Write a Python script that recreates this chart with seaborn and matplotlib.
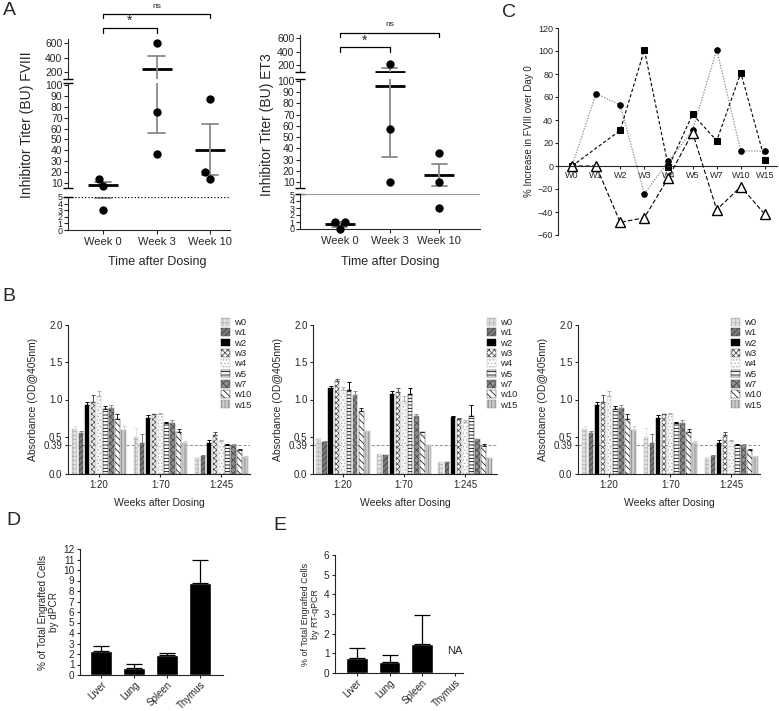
import numpy as np
import pandas as pd
import matplotlib
matplotlib.use("Agg")
import matplotlib.pyplot as plt
import matplotlib.patches as mpatches
from matplotlib.transforms import blended_transform_factory
import seaborn as sns

sns.set_style("ticks")
plt.rcParams["font.family"] = ["Liberation Sans", "DejaVu Sans"]
plt.rcParams["hatch.linewidth"] = 0.6
plt.rcParams["axes.linewidth"] = 0.8
plt.rcParams["xtick.major.width"] = 0.8
plt.rcParams["ytick.major.width"] = 0.8

# ---------------- data ----------------
weeks_a = ["Week 0", "Week 3", "Week 10"]
fviii_w0 = [14, 7, 3]
fviii_w3 = [600, 75, 37]
fviii_w10 = [87, 14, 20]
et3_w0 = [0, 1, 1]
et3_w3 = [220, 57, 10]
et3_w10 = [36, 10, 3]

c_weeks = ["W0", "W1", "W2", "W3", "W4", "W5", "W7", "W10", "W15"]
c_circle = [0, 63, 53, -24, 4, 31, 101, 13, 13]
c_square = [0, np.nan, 31, 101, -1, 45, 22, 81, 5]
c_triangle = [0, 0, -49, -45, -10, 29, -38, -18, -42]

b_dil = ["1:20", "1:70", "1:245"]
b_weeks = ["w0", "w1", "w2", "w3", "w4", "w5", "w7", "w10", "w15"]
b1_20 = [0.61, 0.55, 0.92, 0.97, 1.05, 0.87, 0.88, 0.74, 0.59]
b1_70 = [0.49, 0.41, 0.75, 0.80, 0.80, 0.69, 0.68, 0.57, 0.42]
b1_245 = [0.22, 0.24, 0.42, 0.53, 0.44, 0.39, 0.39, 0.32, 0.23]
b1_20_err = [0.03, 0.03, 0.04, 0.09, 0.06, 0.04, 0.05, 0.06, 0.05]
b1_70_err = [0.13, 0.13, 0.04, 0.01, 0.02, 0.01, 0.05, 0.04, 0.02]
b1_245_err = [0.01, 0.01, 0.03, 0.03, 0.02, 0.01, 0.01, 0.02, 0.01]
b2_20 = [0.47, 0.43, 1.16, 1.25, 1.13, 1.13, 1.06, 0.85, 0.58]
b2_70 = [0.27, 0.26, 1.07, 1.10, 0.98, 1.07, 0.78, 0.57, 0.39]
b2_245 = [0.16, 0.16, 0.76, 0.74, 0.70, 0.78, 0.47, 0.37, 0.21]
b2_20_err = [0.01, 0.01, 0.02, 0.02, 0.04, 0.10, 0.06, 0.03, 0.0]
b2_70_err = [0.0, 0.0, 0.04, 0.05, 0.07, 0.08, 0.03, 0.0, 0.0]
b2_245_err = [0.0, 0.0, 0.02, 0.01, 0.03, 0.14, 0.0, 0.03, 0.0]
b3_20, b3_70, b3_245 = b1_20, b1_70, b1_245
b3_20_err, b3_70_err, b3_245_err = b1_20_err, b1_70_err, b1_245_err

tissues = ["Liver", "Lung", "Spleen", "Thymus"]
d_mean = [2.25, 0.70, 1.95, 8.8]
d_err = [0.55, 0.35, 0.15, 2.2]
e_mean = [0.75, 0.57, 1.47, np.nan]
e_err = [0.50, 0.35, 1.47, np.nan]

# ---------------- figure ----------------
W, H = 779, 711
fig = plt.figure(figsize=(W / 100, H / 100), dpi=100)


def ax_px(l, t, r, b):
    return fig.add_axes([l / W, 1 - b / H, (r - l) / W, (b - t) / H])


def fy(px):
    return 1 - px / H


def fx(px):
    return px / W


# ---------------- panel A ----------------
def panel_a(vals, left, right, segs, xlim, line5, brackets):
    df = pd.DataFrame({"week": np.repeat(weeks_a, 3), "val": np.concatenate(vals)})
    axes = []
    n = len(segs)
    for i, (t, b, yl, yt) in enumerate(segs):
        ax = ax_px(left, t, right, b)
        ax.patch.set_alpha(0)
        sub = df[(df.val >= yl[0]) & (df.val <= yl[1])]
        sns.swarmplot(data=sub, x="week", y="val", order=weeks_a, color="black",
                      size=6, ax=ax, clip_on=False)
        sns.pointplot(data=df, x="week", y="val", order=weeks_a, errorbar="se",
                      capsize=0.3, color="black", marker="_", markersize=22,
                      markeredgewidth=2, linestyle="none",
                      err_kws={"color": "#8a8a8a", "linewidth": 1.3}, ax=ax)
        ax.set_xlim(xlim)
        ax.set_ylim(yl)
        ax.set_yticks(yt)
        ax.set_xlabel("")
        ax.set_ylabel("")
        ax.spines["top"].set_visible(False)
        ax.spines["right"].set_visible(False)
        if i < n - 1:
            ax.spines["bottom"].set_visible(False)
            ax.tick_params(axis="x", bottom=False, labelbottom=False)
            ax.tick_params(axis="y", labelsize=7.5, length=3, pad=1)
        else:
            ax.tick_params(axis="x", labelsize=8, length=3, pad=2)
            ax.tick_params(axis="y", labelsize=6.5, length=3, pad=1)
        if i > 0:
            ax.plot([0], [1], marker="_", ms=7, mew=1, color="black",
                    transform=ax.transAxes, clip_on=False)
        if i < n - 1:
            ax.plot([0], [0], marker="_", ms=7, mew=1, color="black",
                    transform=ax.transAxes, clip_on=False)
        axes.append(ax)
    axb = axes[-1]
    axb.axhline(5, **line5)
    top = axes[0]
    tr = blended_transform_factory(top.transData, fig.transFigure)
    for (x0, x1, yb, yl, txt, ty, fs) in brackets:
        top.plot([x0, x0, x1, x1], [fy(yl), fy(yb), fy(yb), fy(yl)], color="black",
                 lw=0.9, transform=tr, clip_on=False)
        top.text((x0 + x1) / 2, fy(ty), txt, transform=tr, ha="center", va="center",
                 fontsize=fs)
    return axes


panel_a([fviii_w0, fviii_w3, fviii_w10], 68, 230,
        [(39.4, 79.3, (100, 650), [200, 400, 600]),
         (82.8, 188.4, (5, 102), list(range(10, 101, 10))),
         (197, 230, (0, 5), [0, 1, 2, 3, 4, 5])],
        (-0.65, 2.37), dict(ls=":", color="black", lw=0.9),
        [(0, 1, 28, 33, "*", 21, 10), (0, 2, 14, 18, "ns", 6, 6)])
fig.text(fx(27), fy(125), "Inhibitor Titer (BU) FVIII", rotation=90, ha="center",
         va="center", fontsize=10)
fig.text(fx(157), fy(262), "Time after Dosing", ha="center", va="center", fontsize=9)

panel_a([et3_w0, et3_w3, et3_w10], 300, 480,
        [(34.6, 71.8, (100, 650), [200, 400, 600]),
         (78.8, 187.6, (5, 102), list(range(10, 101, 10))),
         (194, 229, (0, 5), [0, 1, 2, 3, 4, 5])],
        (-0.8, 2.82), dict(ls="-", color="#9a9a9a", lw=0.8),
        [(0, 1, 47, 52, "*", 41, 10), (0, 2, 33, 37, "ns", 25, 6)])
fig.text(fx(267), fy(125), "Inhibitor Titer (BU) ET3", rotation=90, ha="center",
         va="center", fontsize=10)
fig.text(fx(390), fy(262), "Time after Dosing", ha="center", va="center", fontsize=9)

# ---------------- panel C ----------------
axc = ax_px(558, 28, 777, 235)
pos = np.arange(len(c_weeks))
dfc = pd.DataFrame({"pos": pos, "circle": c_circle, "square": c_square,
                    "triangle": c_triangle})
sq = dfc.dropna(subset=["square"])
sns.lineplot(x=dfc["pos"], y=dfc["circle"], ax=axc, color="#8c8c8c", ls=(0, (1, 1.2)),
             lw=0.9, marker="o", ms=4, mfc="black", mec="black")
sns.lineplot(x=sq["pos"], y=sq["square"], ax=axc, color="black", ls=(0, (3, 2)),
             lw=0.8, marker="s", ms=4, mfc="black", mec="black")
sns.lineplot(x=dfc["pos"], y=dfc["triangle"], ax=axc, color="black", ls=(0, (4, 2)),
             lw=0.8, marker="^", ms=7, mfc="white", mec="black", mew=1)
axc.set_xlim(-0.58, 8.5)
axc.set_ylim(-60, 120)
axc.set_yticks(range(-60, 121, 20))
axc.set_xticks(pos)
axc.set_xticklabels(c_weeks, rotation=-25, ha="center")
axc.spines["top"].set_visible(False)
axc.spines["right"].set_visible(False)
axc.spines["bottom"].set_position(("data", 0))
axc.tick_params(axis="both", labelsize=6.5, length=2.5, pad=1)
axc.set_xlabel("")
axc.set_ylabel("% Increase in FVIII over Day 0", fontsize=7, labelpad=3)

# ---------------- panel B ----------------
b_style = {
    "w0": dict(fc="#e2e2e2", ec="#b5b5b5", hatch="++++"),
    "w1": dict(fc="#7a7a7a", ec="#3c3c3c", hatch="//////"),
    "w2": dict(fc="black", ec="black", hatch=None),
    "w3": dict(fc="white", ec="#505050", hatch="xxxxxx"),
    "w4": dict(fc="white", ec="#b0b0b0", hatch="....."),
    "w5": dict(fc="white", ec="black", hatch="-----"),
    "w7": dict(fc="#8e8e8e", ec="#4a4a4a", hatch="xxxxx"),
    "w10": dict(fc="white", ec="#222222", hatch="\\\\\\\\\\"),
    "w15": dict(fc="#cccccc", ec="#8a8a8a", hatch="|||||"),
}


def panel_b(left, right, vals, errs, legx, xlim):
    ax = ax_px(left, 325, right, 474)
    rows = []
    for d, v in zip(b_dil, vals):
        for w, y in zip(b_weeks, v):
            rows.append((d, w, y))
    df = pd.DataFrame(rows, columns=["dil", "week", "od"])
    sns.barplot(data=df, x="dil", y="od", hue="week", order=b_dil, hue_order=b_weeks,
                width=0.9, gap=0.25, errorbar=None, legend=False, ax=ax)
    conts = list(ax.containers)
    for wi, cont in enumerate(conts):
        st = b_style[b_weeks[wi]]
        xs, ys, es = [], [], []
        for di, p in enumerate(cont.patches):
            p.set_facecolor(st["fc"])
            p.set_edgecolor(st["ec"])
            p.set_linewidth(0.3)
            if st["hatch"]:
                p.set_hatch(st["hatch"])
            xs.append(p.get_x() + p.get_width() / 2)
            ys.append(p.get_height())
            es.append(errs[di][wi])
        ax.errorbar(xs, ys, yerr=[np.zeros(len(es)), es], fmt="none",
                    ecolor=st["ec"] if st["fc"] == "white" else st["fc"],
                    elinewidth=0.7, capsize=1.3, capthick=0.7)
    ax.axhline(0.39, ls=(0, (3, 2)), color="#8a8a8a", lw=0.7, zorder=0.5)
    ax.set_xlim(xlim)
    ax.set_ylim(0, 2.0)
    ax.set_yticks([0, 0.39, 0.5, 1.0, 1.5, 2.0])
    ax.set_yticklabels(["0.0", "0.39", "0.5", "1.0", "1.5", "2.0"])
    ax.spines["top"].set_visible(False)
    ax.spines["right"].set_visible(False)
    ax.tick_params(axis="both", labelsize=7, length=2.5, pad=1.5)
    ax.set_xlabel("Weeks after Dosing", fontsize=7.5, labelpad=6)
    ax.set_ylabel("Absorbance (OD@405nm)", fontsize=7.5, labelpad=4)
    handles = [mpatches.Patch(facecolor=b_style[w]["fc"], edgecolor=b_style[w]["ec"],
                              hatch=b_style[w]["hatch"], lw=0.3) for w in b_weeks]
    ax.legend(handles, b_weeks, loc="upper left", bbox_to_anchor=(fx(legx), fy(318)),
              bbox_transform=fig.transFigure, frameon=False, fontsize=6.8,
              handlelength=0.9, handleheight=0.9, handletextpad=0.5,
              labelspacing=0.12, borderpad=0, borderaxespad=0)
    return ax


panel_b(68, 250, [b1_20, b1_70, b1_245], [b1_20_err, b1_70_err, b1_245_err], 221,
        (-0.51, 2.47))
panel_b(313, 497, [b2_20, b2_70, b2_245], [b2_20_err, b2_70_err, b2_245_err], 487,
        (-0.49, 2.52))
panel_b(578, 760, [b3_20, b3_70, b3_245], [b3_20_err, b3_70_err, b3_245_err], 731,
        (-0.51, 2.47))

# ---------------- panels D, E ----------------
def panel_bar(left, top, right, bottom, means, errs, ymax, xlim, ylabel, lfs, capsize):
    ax = ax_px(left, top, right, bottom)
    df = pd.DataFrame({"tissue": tissues, "v": means})
    sns.barplot(data=df, x="tissue", y="v", order=tissues, color="black",
                width=0.66, errorbar=None, ax=ax, saturation=1)
    good = [e for e in errs if not np.isnan(e)]
    patches = list(ax.containers[0].patches)
    for p, e in zip(patches, good):
        ax.errorbar(p.get_x() + p.get_width() / 2, p.get_height(), yerr=[[0], [e]],
                    fmt="none", ecolor="black", elinewidth=0.9, capsize=capsize,
                    capthick=0.9)
    ax.set_xlim(xlim)
    ax.set_ylim(0, ymax)
    ax.set_yticks(range(0, ymax + 1))
    ax.spines["top"].set_visible(False)
    ax.spines["right"].set_visible(False)
    ax.tick_params(axis="y", labelsize=7.2, length=2.5, pad=1.5)
    ax.tick_params(axis="x", labelsize=7, length=2.5, pad=1)
    plt.setp(ax.get_xticklabels(), rotation=45, ha="right", rotation_mode="anchor")
    ax.set_xlabel("")
    ax.set_ylabel(ylabel, fontsize=lfs, labelpad=3, linespacing=1.1)
    return ax


panel_bar(80, 549, 223, 675, d_mean, d_err, 12, (-0.64, 3.7),
          "% of Total Engrafted Cells\nby dPCR", 7.2, 6)
axe = panel_bar(335, 555, 463, 673, e_mean, e_err, 6, (-0.67, 3.25),
                "% of Total Engrafted Cells\nby RT-qPCR", 6.4, 5.5)
axe.text(3, 1.1, "NA", ha="center", va="center", fontsize=8)

# ---------------- panel letters ----------------
for txt, x, y in [("A", 3, 2), ("B", 2, 288), ("C", 502, 4), ("D", 6, 512),
                  ("E", 273, 517)]:
    fig.text(fx(x), fy(y), txt, fontsize=14, ha="left", va="top")

fig.savefig("out.png", dpi=100)
